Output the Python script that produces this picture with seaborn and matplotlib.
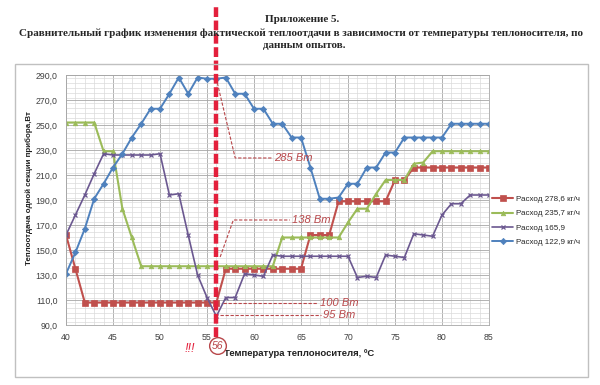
import matplotlib
matplotlib.use("Agg")
import matplotlib.pyplot as plt
import seaborn as sns
import pandas as pd
from matplotlib.ticker import MultipleLocator, FixedLocator, FuncFormatter
from matplotlib.patches import Rectangle

# ---------------- data ----------------
temps = list(range(40, 86))
flow_278 = [162, 135] + [108] * 14 + [108] + [135] * 9 + [162] * 3 + [189] * 6 + [206] * 2 + [216] * 9
flow_235 = [252] * 4 + [229, 229, 183, 160] + [137] * 15 + [160] * 7 + [172, 183, 183, 195, 206, 206, 206, 219, 220] + [229] * 7
flow_165 = [162, 178, 194, 211, 227, 226, 226, 226, 226, 226,
            227, 194, 195, 162, 130, 112, 97, 112, 112, 131,
            130, 129, 146, 145, 145, 145, 145, 145, 145, 145,
            145, 128, 129, 128, 146, 145, 144, 163, 162, 161,
            178, 187, 187, 194, 194, 194]
flow_122 = [131, 148, 167, 191, 203, 216, 227, 240, 251, 263,
            263, 275, 288, 275, 288, 287, 287, 288, 275, 275,
            263, 263, 251, 251, 240, 240, 216, 191, 191, 192,
            203, 203, 216, 216, 228, 228, 240, 240, 240, 240,
            240, 251, 251, 251, 251, 251]
series_labels = ["Расход 278,6 кг/ч", "Расход 235,7 кг/ч", "Расход 165,9", "Расход 122,9 кг/ч"]
x_ticks = [40, 45, 50, 55, 60, 65, 70, 75, 80, 85]
y_ticks = [90, 110, 130, 150, 170, 190, 210, 230, 250, 270, 290]
marked_temp = 56

title_lines = ["Приложение 5.",
               "Сравнительный график изменения фактической теплоотдачи в зависимости от температуры теплоносителя, по",
               "данным опытов."]
x_label = "Температура теплоносителя, ºС"
y_label = "Теплоотдача одной секции прибора,Вт"

# callouts: (text, path of dashed leader in data coords)
callouts = [
    ("285 Вт", [(56.1, 283.6), (58.0, 223.6), (61.9, 223.6)]),
    ("138 Вт", [(56.4, 144.4), (57.8, 174.0), (63.8, 174.0)]),
    ("100 Вт", [(56.7, 107.6), (66.8, 107.6)]),
    ("95 Вт", [(56.4, 98.0), (67.1, 98.0)]),
]

colors = ["#C0504D", "#9BBB59", "#6B5890", "#4F81BD"]
markers = ["s", "^", "x", "D"]
msizes = [3.8, 3.3, 3.4, 3.2]
lwidths = [1.5, 1.5, 1.2, 1.4]

df = pd.DataFrame({
    "temp": temps * 4,
    "value": flow_278 + flow_235 + flow_165 + flow_122,
    "series": sum([[s] * len(temps) for s in series_labels], []),
})

sns.set_theme(style="white")
plt.rcParams['font.family'] = ['Liberation Sans', 'DejaVu Sans']

fig = plt.figure(figsize=(6, 3.85), dpi=100)
ax = fig.add_axes([66 / 600, 1 - 325 / 385, (489 - 66) / 600, 250 / 385])

for lab, c, m, ms, lw in zip(series_labels, colors, markers, msizes, lwidths):
    sub = df[df["series"] == lab]
    sns.lineplot(data=sub, x="temp", y="value", ax=ax, color=c, marker=m,
                 markersize=ms, linewidth=lw, markeredgecolor=c,
                 markeredgewidth=0.9 if m == "x" else 0.5, label=lab)

ax.set_xlim(40, 85)
ax.set_ylim(90, 290)
ax.xaxis.set_major_locator(FixedLocator(x_ticks))
ax.yaxis.set_major_locator(FixedLocator(y_ticks))
ax.xaxis.set_minor_locator(MultipleLocator(1))
ax.yaxis.set_minor_locator(MultipleLocator(4))
ax.yaxis.set_major_formatter(FuncFormatter(lambda v, p: f"{v:.1f}".replace(".", ",")))
ax.grid(which="major", color="#A6A6A6", lw=0.6)
ax.grid(which="minor", color="#DADADA", lw=0.5)
ax.set_axisbelow(True)
for s in ax.spines.values():
    s.set_color("#A6A6A6")
    s.set_linewidth(0.6)
ax.tick_params(axis="both", which="major", labelsize=6.3, colors="#404040",
               length=0, pad=6)
ax.tick_params(axis="y", pad=6)
ax.set_xlabel("")
ax.set_ylabel("")

# red marker line at 56
ax.axvline(marked_temp, ymin=-0.048, ymax=1.28, clip_on=False, color="#E3203C",
           lw=3.2, dashes=(2.2, 0.8), zorder=5)

# callouts
ann_color = "#B8474A"
for txt, path in callouts:
    xs = [p[0] for p in path]
    ys = [p[1] for p in path]
    ax.plot(xs, ys, color=ann_color, lw=0.8, ls=(0, (3, 1.5)), zorder=6)
    ax.text(xs[-1] + 0.25, ys[-1], txt, color=ann_color, fontsize=8,
            style="italic", ha="left", va="center", zorder=6)

# legend
ax.legend(loc="upper left", bbox_to_anchor=(489 / 600, 1 - 192 / 385),
          bbox_transform=fig.transFigure, frameon=False, fontsize=5.8,
          handlelength=2.6, handletextpad=0.3, labelspacing=0.85,
          borderaxespad=0)

# outer chart frame
fig.patches.append(Rectangle((15 / 600, 1 - 377 / 385), 573 / 600, 313 / 385,
                             transform=fig.transFigure, fill=False,
                             edgecolor="#C0C0C0", lw=1.0))

# titles
fig.text(302 / 600, 1 - 19 / 385, title_lines[0], ha="center", va="center",
         fontsize=8.0, fontweight="bold", family="Liberation Serif")
fig.text(301 / 600, 1 - 33 / 385, title_lines[1], ha="center", va="center",
         fontsize=8.0, fontweight="bold", family="Liberation Serif")
fig.text(304 / 600, 1 - 46 / 385, title_lines[2], ha="center", va="center",
         fontsize=8.0, fontweight="bold", family="Liberation Serif")

# axis labels
fig.text(29 / 600, 1 - 188 / 385, y_label, rotation=90, ha="center", va="center",
         fontsize=5.8, fontweight="bold", color="#202020")
fig.text(224 / 600, 1 - 353 / 385, x_label, ha="left", va="center",
         fontsize=6.8, fontweight="bold", color="#202020")

# "!!!" and circled 56
fig.text(190 / 600, 1 - 349 / 385, "!!!", ha="center", va="center",
         fontsize=9, style="italic", color="#E3203C")
fig.text(218 / 600, 1 - 346 / 385, "56", ha="center", va="center",
         fontsize=7.5, style="italic", color="#B8474A",
         bbox=dict(boxstyle="circle,pad=0.25", fc="white", ec="#B8474A", lw=1.0))

fig.savefig("out.png", dpi=100)
